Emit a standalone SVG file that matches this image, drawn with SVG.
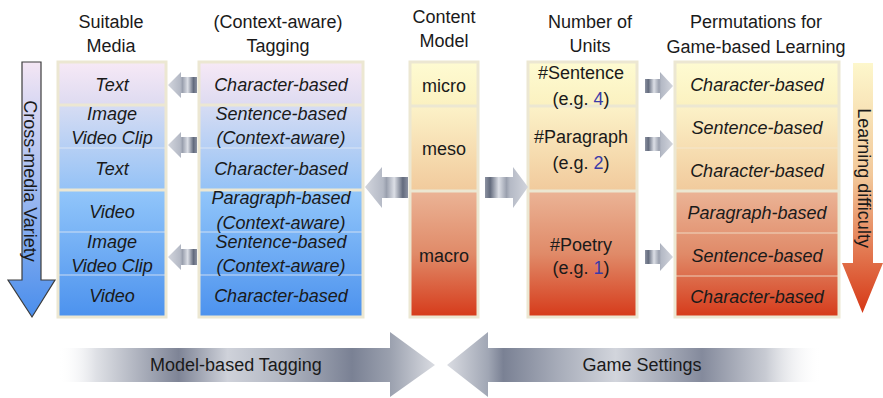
<svg xmlns="http://www.w3.org/2000/svg" width="883" height="398" viewBox="0 0 883 398">
<style>
text{font-family:"Liberation Sans",Arial,sans-serif;font-size:18px;fill:#1a1a1a;text-anchor:middle;dominant-baseline:central}
.it{font-style:italic}
.num{fill:#3a3aa8}
.frame{fill:none;stroke:#ece7d2;stroke-width:3}
.div{stroke:#e6ecf4;stroke-width:1.2;opacity:0.8}
.divw{stroke:#f3ead6;stroke-width:1.2;opacity:0.8}
.sep{stroke:#ece7d2;stroke-width:3}
</style>
<defs>
<linearGradient id="blue1" x1="0" y1="0" x2="0" y2="1">
<stop offset="0" stop-color="#f7e9f6"/><stop offset="0.33" stop-color="#dedbf1"/><stop offset="0.34" stop-color="#d6dcf3"/><stop offset="1" stop-color="#94c2f6"/>
</linearGradient>
<linearGradient id="blue2" x1="0" y1="0" x2="0" y2="1">
<stop offset="0" stop-color="#92c6fa"/><stop offset="1" stop-color="#4c92ee"/>
</linearGradient>
<linearGradient id="y1" x1="0" y1="0" x2="0" y2="1">
<stop offset="0" stop-color="#fefbd2"/><stop offset="1" stop-color="#fbf1c0"/>
</linearGradient>
<linearGradient id="y2" x1="0" y1="0" x2="0" y2="1">
<stop offset="0" stop-color="#fcf2c8"/><stop offset="1" stop-color="#f1ca9c"/>
</linearGradient>
<linearGradient id="y3" x1="0" y1="0" x2="0" y2="1">
<stop offset="0" stop-color="#ebb496"/><stop offset="0.5" stop-color="#e08a68"/><stop offset="1" stop-color="#d63a1a"/>
</linearGradient>
<linearGradient id="cmv" x1="0" y1="0" x2="0" y2="1">
<stop offset="0" stop-color="#f4e6f4"/><stop offset="1" stop-color="#4a8eec"/>
</linearGradient>
<linearGradient id="ld" x1="0" y1="0" x2="0" y2="1">
<stop offset="0" stop-color="#fdf7cc"/><stop offset="0.45" stop-color="#f2c89a"/><stop offset="1" stop-color="#d63816"/>
</linearGradient>
<linearGradient id="arL" x1="0" y1="0" x2="1" y2="0">
<stop offset="0" stop-color="#d2d5dd"/><stop offset="0.42" stop-color="#b4b9c5"/><stop offset="0.5" stop-color="#9aa0ae"/><stop offset="0.68" stop-color="#dcdfe6"/><stop offset="0.88" stop-color="#636b7d"/><stop offset="1" stop-color="#8c92a2"/>
</linearGradient>
<linearGradient id="arR" x1="0" y1="0" x2="1" y2="0">
<stop offset="0" stop-color="#8c92a2"/><stop offset="0.12" stop-color="#636b7d"/><stop offset="0.32" stop-color="#dcdfe6"/><stop offset="0.5" stop-color="#9aa0ae"/><stop offset="0.58" stop-color="#b4b9c5"/><stop offset="1" stop-color="#d2d5dd"/>
</linearGradient>
<linearGradient id="bigL" gradientUnits="userSpaceOnUse" x1="58" y1="0" x2="435" y2="0">
<stop offset="0" stop-color="#ffffff" stop-opacity="0"/><stop offset="0.1" stop-color="#dfe1e6"/><stop offset="0.25" stop-color="#9ea3b1"/><stop offset="0.32" stop-color="#7e8496"/><stop offset="0.45" stop-color="#cfd2da"/><stop offset="0.6" stop-color="#b0b5c1"/><stop offset="0.78" stop-color="#7a8194"/><stop offset="0.88" stop-color="#9aa0ae"/><stop offset="1" stop-color="#dadce2"/>
</linearGradient>
<linearGradient id="bigR" gradientUnits="userSpaceOnUse" x1="447" y1="0" x2="822" y2="0">
<stop offset="0" stop-color="#dadce2"/><stop offset="0.11" stop-color="#a0a6b4"/><stop offset="0.15" stop-color="#7a8194"/><stop offset="0.3" stop-color="#a8adba"/><stop offset="0.45" stop-color="#d2d5dc"/><stop offset="0.68" stop-color="#848a9c"/><stop offset="0.85" stop-color="#c8cbd3"/><stop offset="1" stop-color="#ffffff" stop-opacity="0"/>
</linearGradient>
</defs>

<g id="headers">
<text x="111" y="22">Suitable</text><text x="111" y="46">Media</text>
<text x="278" y="22">(Context-aware)</text><text x="278" y="46">Tagging</text>
<text x="444" y="17">Content</text><text x="444" y="41">Model</text>
<text x="590" y="22">Number of</text><text x="590" y="46">Units</text>
<text x="756" y="22">Permutations for</text><text x="756" y="47">Game-based Learning</text>
</g>

<g id="cross-media-variety">
<polygon points="22,62 41,62 41,280 55,280 32,317 8,280 22,280" fill="url(#cmv)" stroke="#3c3c3c" stroke-width="1.2"/>
<text transform="translate(30,181) rotate(90)">Cross-media Variety</text>
</g>

<g id="media">
<rect x="58" y="62" width="108" height="128" fill="url(#blue1)"/>
<rect x="58" y="190" width="108" height="127" fill="url(#blue2)"/>
<line class="sep" x1="58" y1="105" x2="166" y2="105"/>
<line class="div" x1="58" y1="148" x2="166" y2="148"/>
<line class="sep" x1="58" y1="190" x2="166" y2="190"/>
<line class="div" x1="58" y1="232" x2="166" y2="232"/>
<line class="div" x1="58" y1="275" x2="166" y2="275"/>
<rect class="frame" x="58" y="62" width="108" height="255"/>
<text class="it" x="112" y="85">Text</text>
<text class="it" x="112" y="114">Image</text><text class="it" x="112" y="138">Video Clip</text>
<text class="it" x="112" y="169">Text</text>
<text class="it" x="112" y="212">Video</text>
<text class="it" x="112" y="242">Image</text><text class="it" x="112" y="266">Video Clip</text>
<text class="it" x="112" y="296">Video</text>
</g>

<g id="tagging">
<rect x="199" y="62" width="164" height="128" fill="url(#blue1)"/>
<rect x="199" y="190" width="164" height="127" fill="url(#blue2)"/>
<line class="sep" x1="199" y1="105" x2="363" y2="105"/>
<line class="div" x1="199" y1="148" x2="363" y2="148"/>
<line class="sep" x1="199" y1="190" x2="363" y2="190"/>
<line class="div" x1="199" y1="232" x2="363" y2="232"/>
<line class="div" x1="199" y1="275" x2="363" y2="275"/>
<rect class="frame" x="199" y="62" width="164" height="255"/>
<text class="it" x="281" y="85">Character-based</text>
<text class="it" x="281" y="114">Sentence-based</text><text class="it" x="281" y="138">(Context-aware)</text>
<text class="it" x="281" y="169">Character-based</text>
<text class="it" x="281" y="198">Paragraph-based</text><text class="it" x="281" y="223">(Context-aware)</text>
<text class="it" x="281" y="242">Sentence-based</text><text class="it" x="281" y="266">(Context-aware)</text>
<text class="it" x="281" y="296">Character-based</text>
</g>

<g id="content-model">
<rect x="410" y="62" width="68" height="44" fill="url(#y1)"/>
<rect x="410" y="106" width="68" height="85" fill="url(#y2)"/>
<rect x="410" y="191" width="68" height="126" fill="url(#y3)"/>
<line class="sep" x1="410" y1="106" x2="478" y2="106"/>
<line class="sep" x1="410" y1="191" x2="478" y2="191"/>
<rect class="frame" x="410" y="62" width="68" height="255"/>
<text x="444" y="86">micro</text>
<text x="444" y="149">meso</text>
<text x="444" y="256">macro</text>
</g>

<g id="units">
<rect x="528" y="62" width="109" height="44" fill="url(#y1)"/>
<rect x="528" y="106" width="109" height="85" fill="url(#y2)"/>
<rect x="528" y="191" width="109" height="126" fill="url(#y3)"/>
<line class="sep" x1="528" y1="106" x2="637" y2="106"/>
<line class="sep" x1="528" y1="191" x2="637" y2="191"/>
<rect class="frame" x="528" y="62" width="109" height="255"/>
<text x="581" y="73">#Sentence</text><text x="581" y="99">(e.g. <tspan class="num">4</tspan>)</text>
<text x="581" y="137">#Paragraph</text><text x="581" y="163">(e.g. <tspan class="num">2</tspan>)</text>
<text x="581" y="245">#Poetry</text><text x="581" y="268">(e.g. <tspan class="num">1</tspan>)</text>
</g>

<g id="permutations">
<rect x="675" y="62" width="164" height="44" fill="url(#y1)"/>
<rect x="675" y="106" width="164" height="85" fill="url(#y2)"/>
<rect x="675" y="191" width="164" height="126" fill="url(#y3)"/>
<line class="sep" x1="675" y1="106" x2="839" y2="106"/>
<line class="divw" x1="675" y1="148" x2="839" y2="148"/>
<line class="sep" x1="675" y1="191" x2="839" y2="191"/>
<line class="divw" x1="675" y1="233" x2="839" y2="233"/>
<line class="divw" x1="675" y1="276" x2="839" y2="276"/>
<rect class="frame" x="675" y="62" width="164" height="255"/>
<text class="it" x="757" y="85">Character-based</text>
<text class="it" x="757" y="128">Sentence-based</text>
<text class="it" x="757" y="171">Character-based</text>
<text class="it" x="757" y="213">Paragraph-based</text>
<text class="it" x="757" y="256">Sentence-based</text>
<text class="it" x="757" y="297">Character-based</text>
</g>

<g id="learning-difficulty">
<polygon points="853,63 873,63 873,263 883,263 862.5,313 842,263 853,263" fill="url(#ld)"/>
<text transform="translate(864,178) rotate(90)">Learning difficulty</text>
</g>

<g id="connectors">
<polygon points="168,85 181,72 181,77 197,77 197,93 181,93 181,98" fill="url(#arL)"/>
<polygon points="168,145 181,132 181,137 197,137 197,153 181,153 181,158" fill="url(#arL)"/>
<polygon points="168,257 181,244 181,249 197,249 197,265 181,265 181,270" fill="url(#arL)"/>
<polygon points="365,187 382,167 382,177 408,177 408,198 382,198 382,208" fill="url(#arL)"/>
<polygon points="485,177 513,177 513,167 528,187 513,208 513,198 485,198" fill="url(#arR)"/>
<polygon points="645,79 660,79 660,72 673,86 660,100 660,93 645,93" fill="url(#arR)"/>
<polygon points="645,137 660,137 660,130 673,144 660,158 660,151 645,151" fill="url(#arR)"/>
<polygon points="645,250 660,250 660,243 673,257 660,271 660,264 645,264" fill="url(#arR)"/>
<g id="model-based-tagging">
<polygon points="58,348 390,348 390,332 435,365 390,397 390,382 58,382" fill="url(#bigL)"/>
<text x="236" y="365">Model-based Tagging</text>
</g>
<g id="game-settings">
<polygon points="447,365 488,332 488,348 822,348 822,382 488,382 488,397" fill="url(#bigR)"/>
<text x="642" y="365">Game Settings</text>
</g>
</g>
</svg>
